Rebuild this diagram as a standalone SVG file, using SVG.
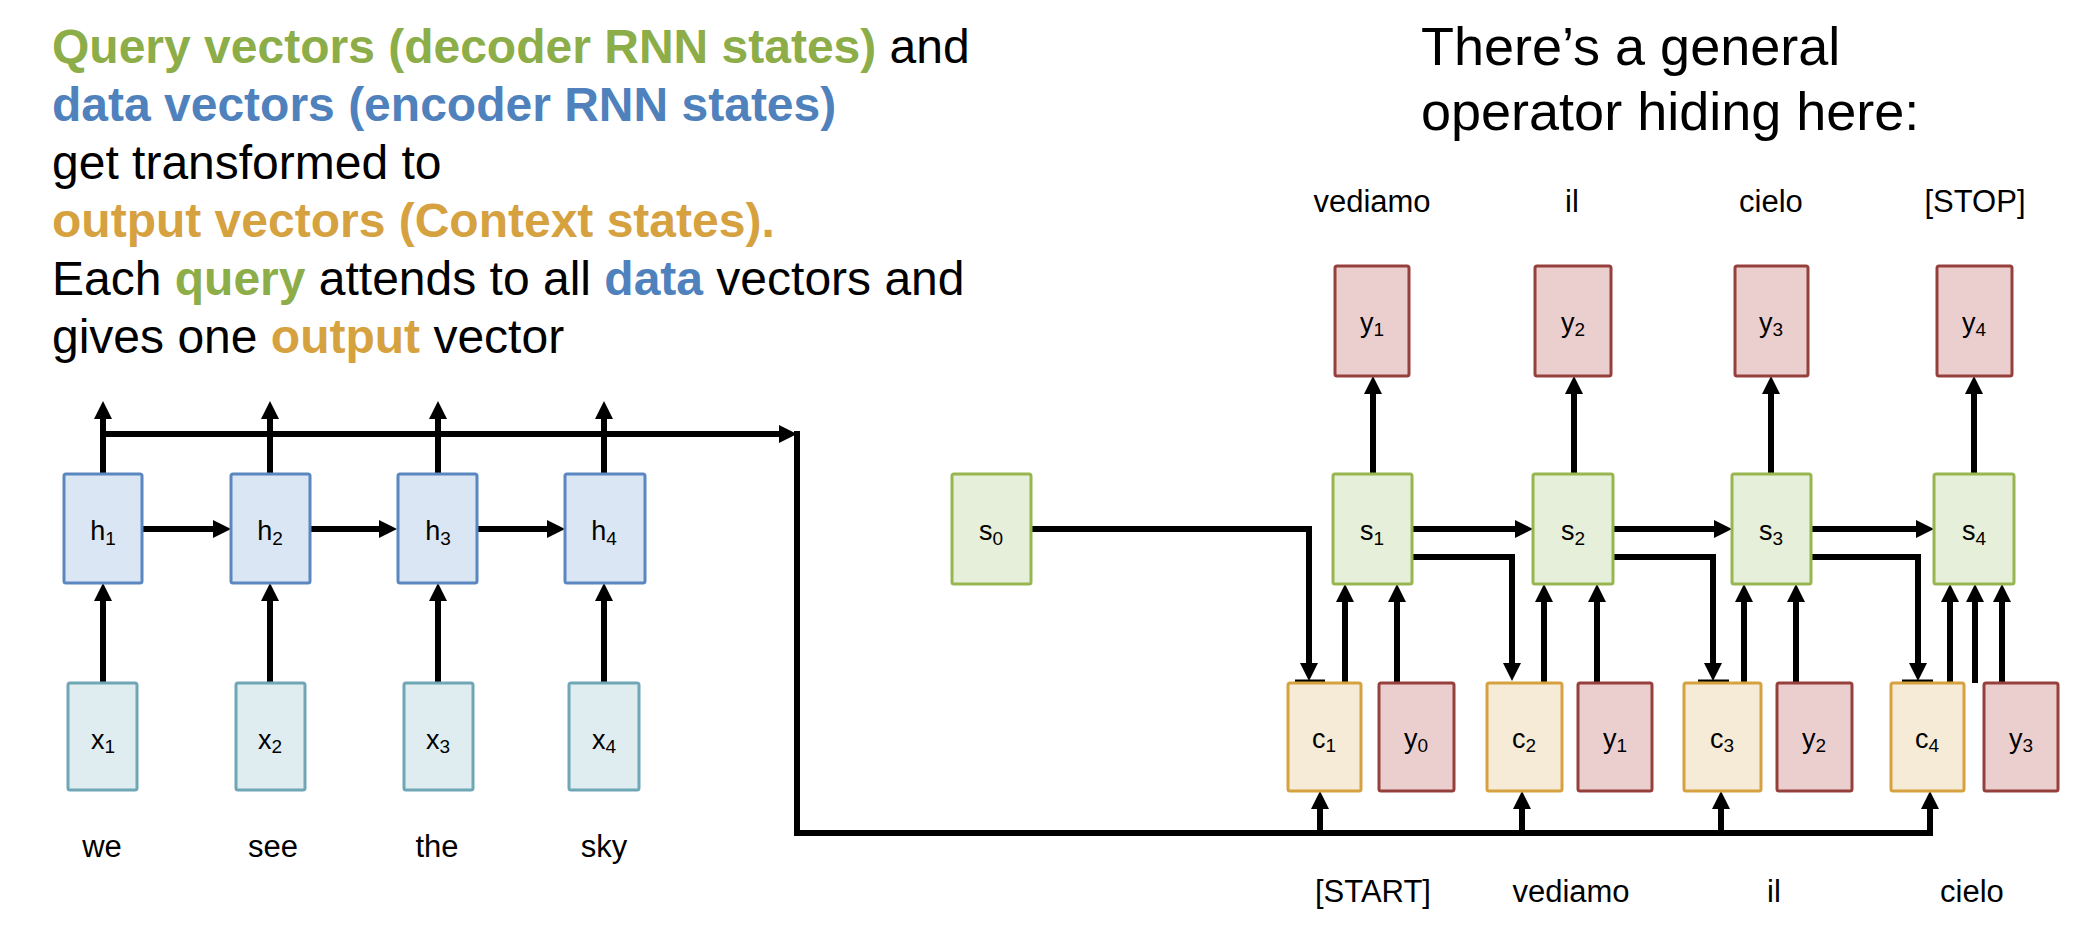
<svg xmlns="http://www.w3.org/2000/svg" width="2078" height="930" viewBox="0 0 2078 930">
<style>
text{font-family:"Liberation Sans",Arial,sans-serif;fill:#000}
.big{font-size:48px}
.title{font-size:54px}
.word{font-size:31px}
.lbl{font-size:27px;text-anchor:middle}
.sub{font-size:19px}
.b{font-weight:bold}
.g{fill:#8cad48}
.bl{fill:#4f81bd}
.o{fill:#d6a13f}
.h{fill:#dae6f4;stroke:#5b87c1;stroke-width:3}
.x{fill:#dfedf1;stroke:#6fa7b7;stroke-width:3}
.s{fill:#e6efd9;stroke:#97b650;stroke-width:3}
.c{fill:#f6ebd7;stroke:#d6a13f;stroke-width:3}
.y{fill:#ebcfcf;stroke:#96403d;stroke-width:3}
.ln{fill:none;stroke:#000;stroke-width:6;stroke-linejoin:miter}
.ar{marker-end:url(#ah)}
.tick{fill:none;stroke:#000;stroke-width:3}
</style>
<defs>
<marker id="ah" markerUnits="userSpaceOnUse" markerWidth="18" markerHeight="18" viewBox="0 0 18 18" refX="1" refY="9" orient="auto"><path d="M0,0 L18,9 L0,18 z" fill="#000"/></marker>
</defs>
<rect width="2078" height="930" fill="#fff"/>

<g id="text-left">
<text class="big" x="52" y="63"><tspan class="b g">Query vectors (decoder RNN states)</tspan> and</text>
<text class="big b bl" x="52" y="121">data vectors (encoder RNN states)</text>
<text class="big" x="52" y="179">get transformed to</text>
<text class="big b o" x="52" y="237">output vectors (Context states).</text>
<text class="big" x="52" y="295">Each <tspan class="b g">query</tspan> attends to all <tspan class="b bl">data</tspan> vectors and</text>
<text class="big" x="52" y="353">gives one <tspan class="b o">output</tspan> vector</text>
</g>
<g id="text-right">
<text class="title" x="1421" y="65">There’s a general</text>
<text class="title" x="1421" y="130">operator hiding here:</text>
</g>

<g id="connectors">
<!-- encoder -->
<path class="ln ar" d="M103,474 V418"/>
<path class="ln ar" d="M270,474 V418"/>
<path class="ln ar" d="M438,474 V418"/>
<path class="ln ar" d="M604,474 V418"/>
<path class="ln ar" d="M103,434 H780"/>
<path class="ln" d="M797,431 V833 H1930"/>
<path class="ln ar" d="M142,529 H214"/>
<path class="ln ar" d="M310,529 H380"/>
<path class="ln ar" d="M477,529 H548"/>
<path class="ln ar" d="M103,683 V600"/>
<path class="ln ar" d="M270,683 V600"/>
<path class="ln ar" d="M438,683 V600"/>
<path class="ln ar" d="M604,683 V600"/>
<!-- decoder -->
<path class="ln ar" d="M1031,529 H1309 V664"/>
<path class="ln ar" d="M1412,529 H1516"/>
<path class="ln ar" d="M1613,529 H1715"/>
<path class="ln ar" d="M1811,529 H1917"/>
<path class="ln ar" d="M1412,557 H1512 V664"/>
<path class="ln ar" d="M1613,557 H1713 V664"/>
<path class="ln ar" d="M1811,557 H1918 V664"/>
<path class="ln ar" d="M1345,683 V601"/>
<path class="ln ar" d="M1544,683 V601"/>
<path class="ln ar" d="M1744,683 V601"/>
<path class="ln ar" d="M1950,683 V601"/>
<path class="ln ar" d="M1397,683 V601"/>
<path class="ln ar" d="M1597,683 V601"/>
<path class="ln ar" d="M1796,683 V601"/>
<path class="ln ar" d="M1975,683 V601"/>
<path class="ln ar" d="M2002,683 V601"/>
<path class="ln ar" d="M1373,474 V393"/>
<path class="ln ar" d="M1574,474 V393"/>
<path class="ln ar" d="M1771,474 V393"/>
<path class="ln ar" d="M1974,474 V393"/>
<path class="ln ar" d="M1320,836 V808"/>
<path class="ln ar" d="M1522,836 V808"/>
<path class="ln ar" d="M1721,836 V808"/>
<path class="ln ar" d="M1930,836 V808"/>
<path class="tick" d="M1295,681 H1325"/>
<path class="tick" d="M1698,681 H1729"/>
<path class="tick" d="M1902,681 H1933"/>
</g>

<g id="h1"><rect class="h" x="64" y="474" width="78" height="109" rx="2"/><text class="lbl" x="103" y="540">h<tspan class="sub" dy="5">1</tspan></text></g>
<g id="h2"><rect class="h" x="231" y="474" width="79" height="109" rx="2"/><text class="lbl" x="270" y="540">h<tspan class="sub" dy="5">2</tspan></text></g>
<g id="h3"><rect class="h" x="398" y="474" width="79" height="109" rx="2"/><text class="lbl" x="438" y="540">h<tspan class="sub" dy="5">3</tspan></text></g>
<g id="h4"><rect class="h" x="565" y="474" width="80" height="109" rx="2"/><text class="lbl" x="604" y="540">h<tspan class="sub" dy="5">4</tspan></text></g>

<g id="x1"><rect class="x" x="68" y="683" width="69" height="107" rx="2"/><text class="lbl" x="103" y="749">x<tspan class="sub" dy="4">1</tspan></text></g>
<g id="x2"><rect class="x" x="236" y="683" width="69" height="107" rx="2"/><text class="lbl" x="270" y="749">x<tspan class="sub" dy="4">2</tspan></text></g>
<g id="x3"><rect class="x" x="404" y="683" width="69" height="107" rx="2"/><text class="lbl" x="438" y="749">x<tspan class="sub" dy="4">3</tspan></text></g>
<g id="x4"><rect class="x" x="569" y="683" width="70" height="107" rx="2"/><text class="lbl" x="604" y="749">x<tspan class="sub" dy="4">4</tspan></text></g>

<g id="words-in">
<text class="word" x="102" y="857" text-anchor="middle">we</text>
<text class="word" x="273" y="857" text-anchor="middle">see</text>
<text class="word" x="437" y="857" text-anchor="middle">the</text>
<text class="word" x="604" y="857" text-anchor="middle">sky</text>
</g>

<g id="s0"><rect class="s" x="952" y="474" width="79" height="110" rx="2"/><text class="lbl" x="991" y="540">s<tspan class="sub" dy="5">0</tspan></text></g>
<g id="s1"><rect class="s" x="1333" y="474" width="79" height="110" rx="2"/><text class="lbl" x="1372" y="540">s<tspan class="sub" dy="5">1</tspan></text></g>
<g id="s2"><rect class="s" x="1533" y="474" width="80" height="110" rx="2"/><text class="lbl" x="1573" y="540">s<tspan class="sub" dy="5">2</tspan></text></g>
<g id="s3"><rect class="s" x="1732" y="474" width="79" height="110" rx="2"/><text class="lbl" x="1771" y="540">s<tspan class="sub" dy="5">3</tspan></text></g>
<g id="s4"><rect class="s" x="1934" y="474" width="80" height="110" rx="2"/><text class="lbl" x="1974" y="540">s<tspan class="sub" dy="5">4</tspan></text></g>

<g id="yout1"><rect class="y" x="1335" y="266" width="74" height="110" rx="2"/><text class="lbl" x="1372" y="332">y<tspan class="sub" dy="4">1</tspan></text></g>
<g id="yout2"><rect class="y" x="1535" y="266" width="76" height="110" rx="2"/><text class="lbl" x="1573" y="332">y<tspan class="sub" dy="4">2</tspan></text></g>
<g id="yout3"><rect class="y" x="1735" y="266" width="73" height="110" rx="2"/><text class="lbl" x="1771" y="332">y<tspan class="sub" dy="4">3</tspan></text></g>
<g id="yout4"><rect class="y" x="1937" y="266" width="75" height="110" rx="2"/><text class="lbl" x="1974" y="332">y<tspan class="sub" dy="4">4</tspan></text></g>

<g id="c1"><rect class="c" x="1288" y="683" width="73" height="108" rx="2"/><text class="lbl" x="1324" y="748">c<tspan class="sub" dy="4">1</tspan></text></g>
<g id="c2"><rect class="c" x="1487" y="683" width="75" height="108" rx="2"/><text class="lbl" x="1524" y="748">c<tspan class="sub" dy="4">2</tspan></text></g>
<g id="c3"><rect class="c" x="1684" y="683" width="77" height="108" rx="2"/><text class="lbl" x="1722" y="748">c<tspan class="sub" dy="4">3</tspan></text></g>
<g id="c4"><rect class="c" x="1891" y="683" width="73" height="108" rx="2"/><text class="lbl" x="1927" y="748">c<tspan class="sub" dy="4">4</tspan></text></g>

<g id="yin0"><rect class="y" x="1379" y="683" width="75" height="108" rx="2"/><text class="lbl" x="1416" y="748">y<tspan class="sub" dy="4">0</tspan></text></g>
<g id="yin1"><rect class="y" x="1578" y="683" width="74" height="108" rx="2"/><text class="lbl" x="1615" y="748">y<tspan class="sub" dy="4">1</tspan></text></g>
<g id="yin2"><rect class="y" x="1777" y="683" width="75" height="108" rx="2"/><text class="lbl" x="1814" y="748">y<tspan class="sub" dy="4">2</tspan></text></g>
<g id="yin3"><rect class="y" x="1984" y="683" width="74" height="108" rx="2"/><text class="lbl" x="2021" y="748">y<tspan class="sub" dy="4">3</tspan></text></g>

<g id="words-out">
<text class="word" x="1372" y="212" text-anchor="middle">vediamo</text>
<text class="word" x="1572" y="212" text-anchor="middle">il</text>
<text class="word" x="1771" y="212" text-anchor="middle">cielo</text>
<text class="word" x="1975" y="212" text-anchor="middle">[STOP]</text>
</g>
<g id="words-dec-in">
<text class="word" x="1373" y="902" text-anchor="middle">[START]</text>
<text class="word" x="1571" y="902" text-anchor="middle">vediamo</text>
<text class="word" x="1774" y="902" text-anchor="middle">il</text>
<text class="word" x="1972" y="902" text-anchor="middle">cielo</text>
</g>
</svg>
